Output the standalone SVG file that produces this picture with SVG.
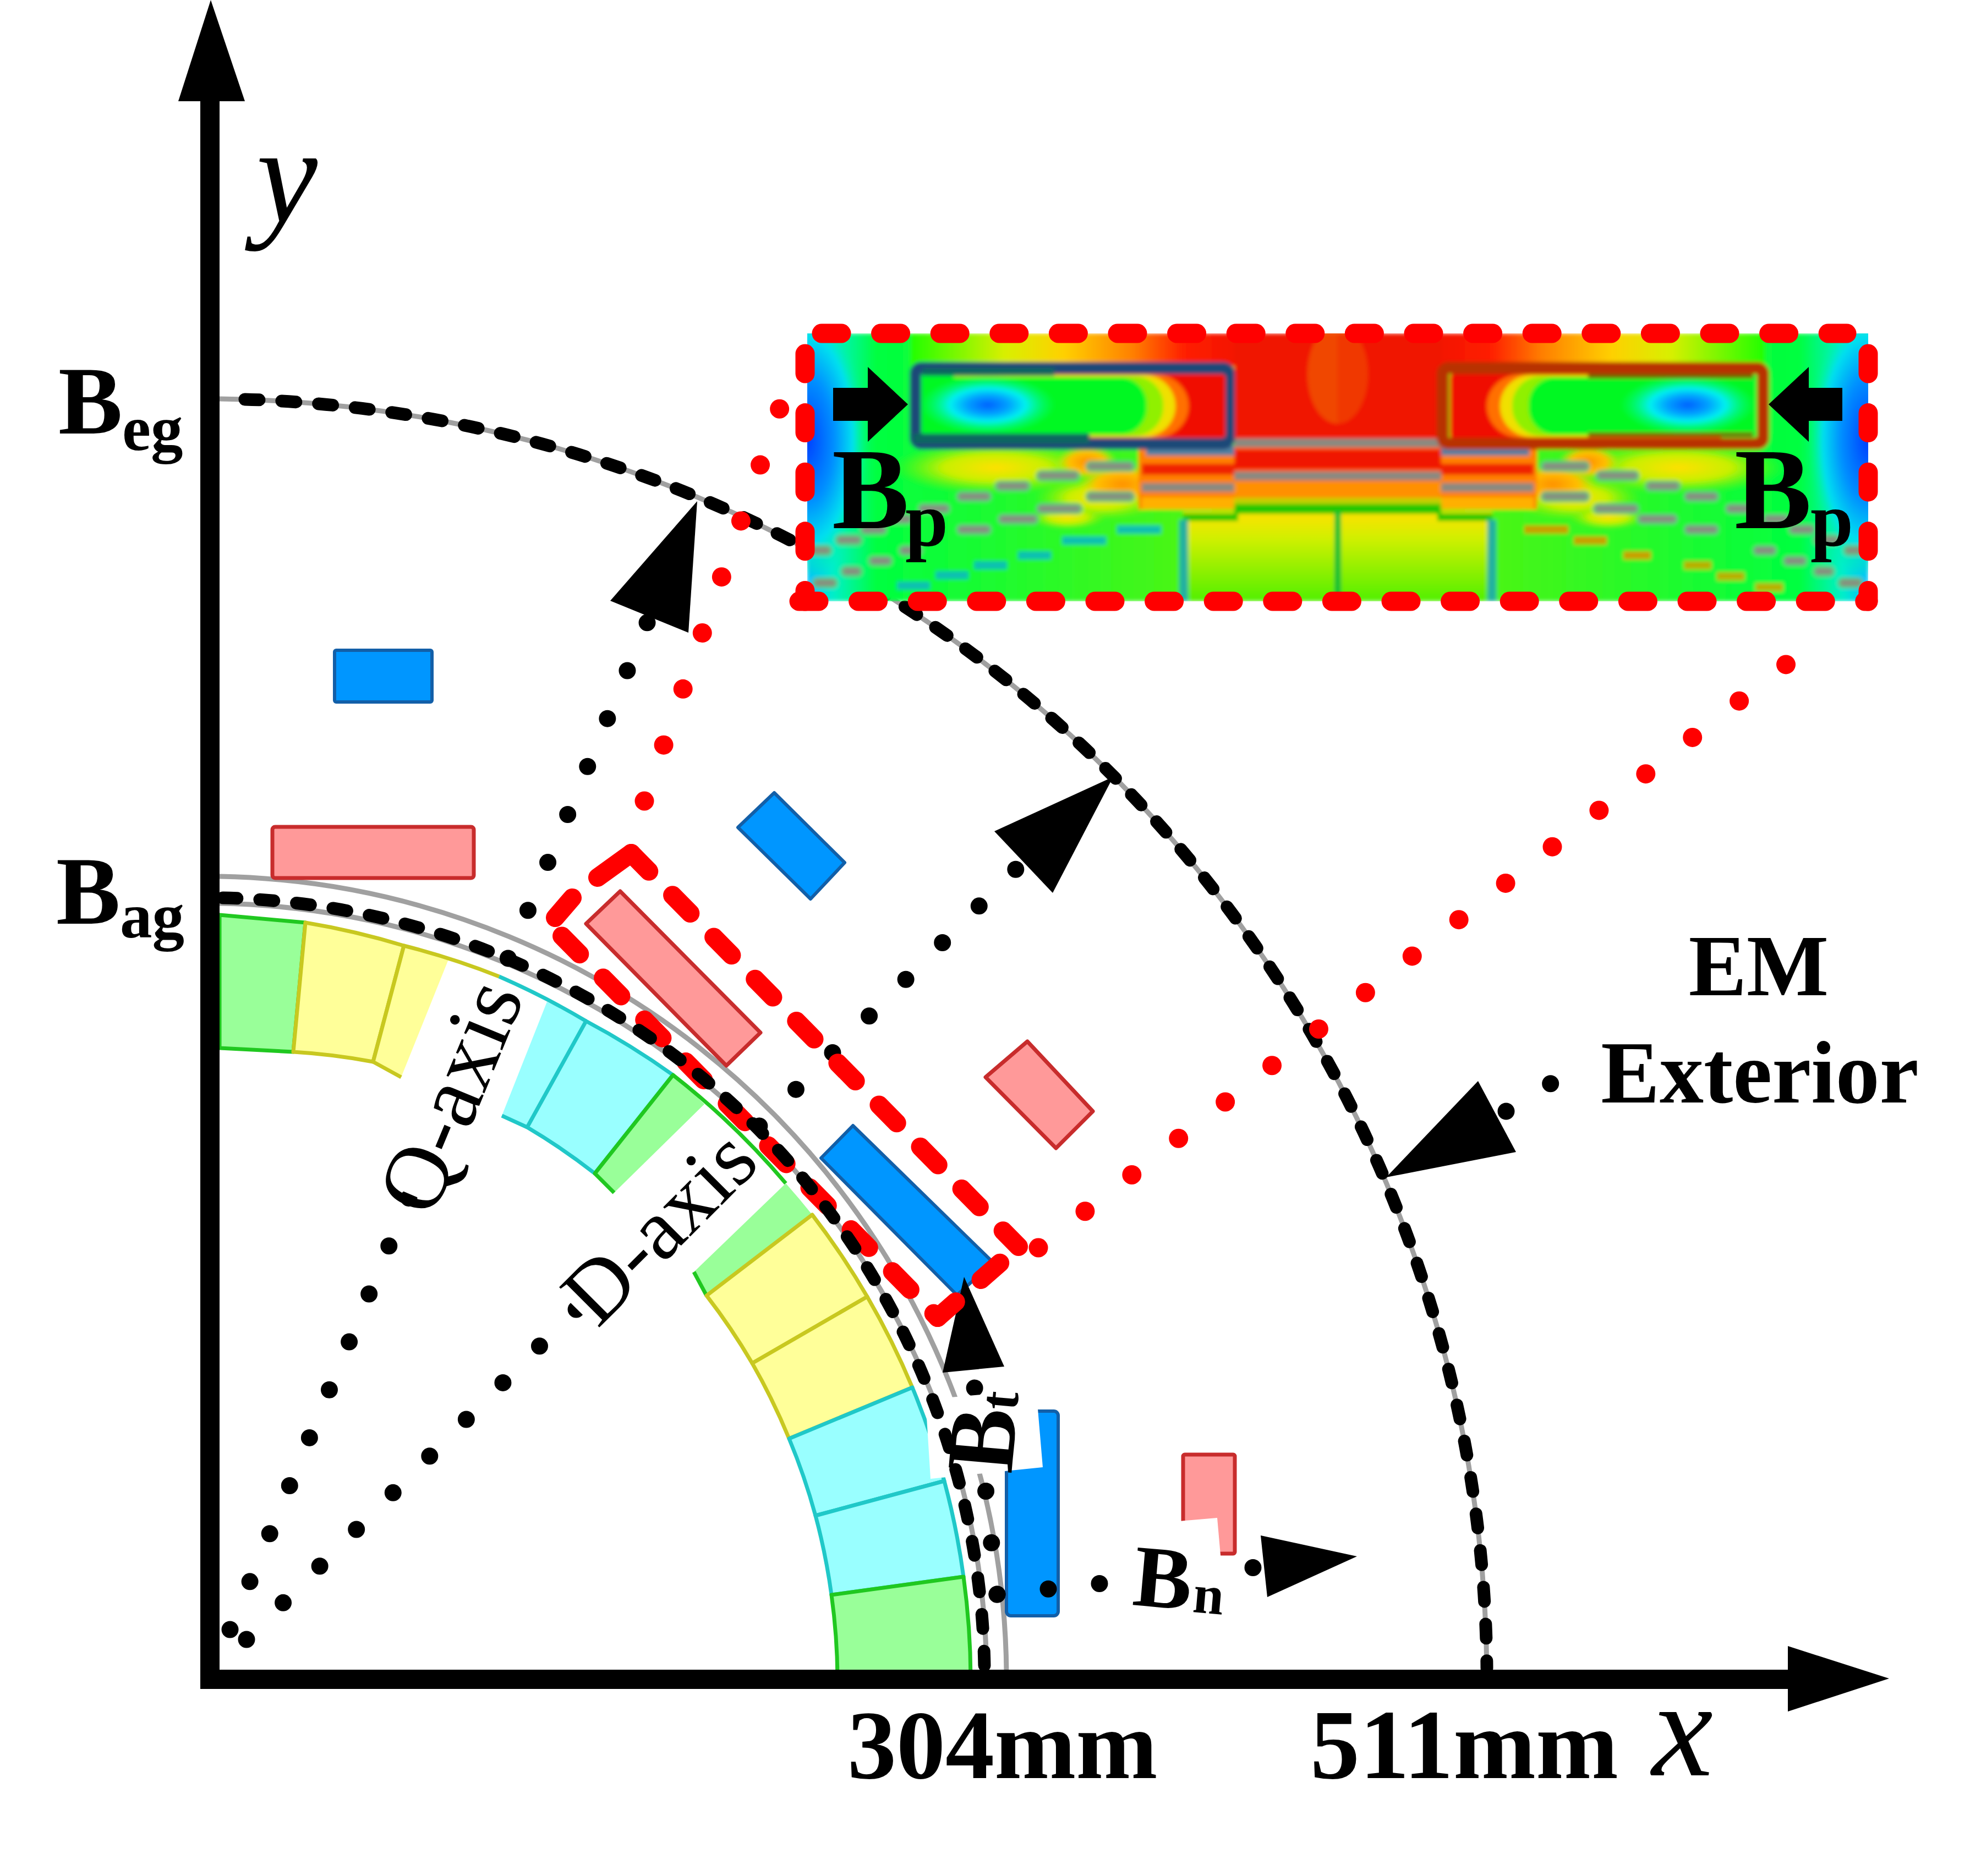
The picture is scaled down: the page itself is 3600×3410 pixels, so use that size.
<svg xmlns="http://www.w3.org/2000/svg" xmlns:xlink="http://www.w3.org/1999/xlink" width="3600" height="3410" viewBox="0 0 3600 3410">
<style>
text{font-family:"Liberation Serif","Times New Roman",serif;fill:#000}
.b{font-weight:bold}
.i{font-style:italic}
.gray{fill:none;stroke:#a0a0a0;stroke-width:9}
.dash{fill:none;stroke:#000;stroke-width:23;stroke-linecap:round;stroke-dasharray:26 41}
.dot{fill:none;stroke:#000;stroke-width:31;stroke-linecap:round}
.rdot{fill:none;stroke:#f00;stroke-width:35;stroke-linecap:round;stroke-dasharray:0 107.7}
.rdash{fill:none;stroke:#f00;stroke-width:34;stroke-linecap:round;stroke-dasharray:46 61}
.rseg{fill:none;stroke:#f00;stroke-width:34;stroke-linecap:round}
.hdash{fill:none;stroke:#f00;stroke-width:35;stroke-linecap:round;stroke-dasharray:36 71.6}
.rm{fill:#ff9999;stroke:#c82c2c;stroke-width:7;stroke-linejoin:round}
.bm{fill:#0096ff;stroke:#125fa8;stroke-width:6;stroke-linejoin:round}
.y{fill:#ffff99;stroke:#c8c820;stroke-width:7;stroke-linejoin:round}
.c{fill:#99ffff;stroke:#20c8c8;stroke-width:7;stroke-linejoin:round}
.g{fill:#99ff99;stroke:#20c820;stroke-width:7;stroke-linejoin:round}
.st{fill:#8a8a80;stroke:#60c080;stroke-width:5}
.w{fill:#fff}
</style>
<defs>
<filter id="soft" x="-2%" y="-5%" width="104%" height="110%"><feGaussianBlur stdDeviation="3.5"/></filter>
<clipPath id="hmClip"><rect x="1467" y="606" width="1928" height="487"/></clipPath>
<linearGradient id="hmBase" x1="0" x2="1" y1="0" y2="0"><stop offset="0" stop-color="#00c0ff"/><stop offset=".05" stop-color="#00f0c8"/><stop offset=".13" stop-color="#00ff40"/><stop offset="1" stop-color="#70f000"/></linearGradient>
<linearGradient id="hmTop" x1="0" x2="1" y1="0" y2="0"><stop offset="0" stop-color="#20ff00"/><stop offset=".22" stop-color="#d8f000"/><stop offset=".36" stop-color="#ffd000"/><stop offset=".52" stop-color="#ff8000"/><stop offset=".64" stop-color="#ff2000"/><stop offset=".8" stop-color="#f01000"/><stop offset="1" stop-color="#f06000"/></linearGradient>
<linearGradient id="hmCol" x1="0" x2="0" y1="0" y2="1"><stop offset="0" stop-color="#ffe000"/><stop offset=".3" stop-color="#d0f000"/><stop offset="1" stop-color="#50f000"/></linearGradient>
<radialGradient id="hmBlue"><stop offset="0" stop-color="#0040ff"/><stop offset=".45" stop-color="#0090ff"/><stop offset=".75" stop-color="#00e0f0"/><stop offset="1" stop-color="#00ff80" stop-opacity="0"/></radialGradient>
<radialGradient id="hmCore"><stop offset="0" stop-color="#0060ff"/><stop offset=".3" stop-color="#00a0ff"/><stop offset=".55" stop-color="#00f0f0"/><stop offset="1" stop-color="#00ff80" stop-opacity="0"/></radialGradient>
<radialGradient id="hmYel"><stop offset="0" stop-color="#ffe000"/><stop offset=".5" stop-color="#c8f000"/><stop offset="1" stop-color="#80f000" stop-opacity="0"/></radialGradient>
<radialGradient id="hmOr"><stop offset="0" stop-color="#ff9000"/><stop offset=".6" stop-color="#ffc000"/><stop offset="1" stop-color="#f0e000" stop-opacity="0"/></radialGradient>
<g id="hmHalf">
<rect x="1467" y="606" width="964" height="487" fill="url(#hmBase)"/>
<rect x="1654" y="606" width="777" height="60" fill="url(#hmTop)"/>
<ellipse cx="1467" cy="800" rx="110" ry="250" fill="url(#hmBlue)"/>
<rect x="2243" y="606" width="188" height="200" fill="#f01800"/>
<ellipse cx="2431" cy="680" rx="55" ry="90" fill="#f05000" opacity=".6"/>
<ellipse cx="1810" cy="850" rx="190" ry="48" fill="url(#hmYel)"/>
<ellipse cx="1975" cy="840" rx="55" ry="30" fill="url(#hmOr)"/>
<ellipse cx="2000" cy="905" rx="120" ry="40" fill="url(#hmYel)"/>
<ellipse cx="2040" cy="880" rx="80" ry="35" fill="url(#hmOr)"/>
<ellipse cx="1940" cy="940" rx="70" ry="22" fill="url(#hmYel)"/>
<rect x="2069" y="816" width="174" height="110" fill="#ff8000"/>
<rect x="2083" y="810" width="160" height="18" fill="#5080a0"/>
<rect x="2075" y="843" width="168" height="20" fill="#f02000"/>
<rect x="2075" y="904" width="168" height="22" fill="#ffb000"/>
<rect x="2243" y="812" width="188" height="105" fill="#ff6000"/>
<rect x="2243" y="817" width="188" height="36" fill="#f01800"/>
<rect x="2243" y="875" width="188" height="30" fill="#ff9000"/>
<rect x="2243" y="905" width="188" height="12" fill="#c0d000"/>
<rect x="2150" y="930" width="281" height="163" fill="url(#hmCol)"/>
<rect x="2243" y="916" width="188" height="18" fill="#20c800"/>
<rect x="2150" y="933" width="100" height="14" fill="#20c800"/>
<rect x="2425" y="930" width="12" height="163" fill="#10c030"/>
<rect x="2143" y="945" width="16" height="148" fill="#20b0a0"/>
<rect x="2243" y="797" width="188" height="16" fill="#8a8a80"/>
<rect x="2243" y="857" width="188" height="16" fill="#8a8a80"/>
<rect x="2075" y="878" width="168" height="16" fill="#8a8a80"/>
<rect class="st" x="1975" y="840" width="85" height="15" rx="7"/>
<rect class="st" x="1885" y="857" width="75" height="15" rx="7"/>
<rect class="st" x="1810" y="876" width="60" height="15" rx="7"/>
<rect class="st" x="1740" y="895" width="60" height="15" rx="7"/>
<rect class="st" x="1670" y="917" width="55" height="15" rx="7"/>
<rect class="st" x="1612" y="936" width="45" height="15" rx="7"/>
<rect class="st" x="1565" y="955" width="45" height="15" rx="7"/>
<rect class="st" x="1520" y="974" width="45" height="15" rx="7"/>
<rect class="st" x="1470" y="993" width="40" height="15" rx="7"/>
<rect class="st" x="1975" y="895" width="85" height="15" rx="7"/>
<rect class="st" x="1885" y="917" width="80" height="15" rx="7"/>
<rect class="st" x="1815" y="936" width="70" height="15" rx="7"/>
<rect class="st" x="1740" y="955" width="60" height="15" rx="7"/>
<rect class="st" x="1635" y="993" width="40" height="15" rx="7"/>
<rect class="st" x="1580" y="1012" width="40" height="15" rx="7"/>
<rect class="st" x="1530" y="1031" width="35" height="15" rx="7"/>
<rect class="st" x="1478" y="1052" width="42" height="15" rx="7"/>
</g>
<g id="hmSlotInner">
<rect x="1674" y="680" width="553" height="116" rx="6" fill="#f00c00"/>
<rect x="1674" y="680" width="486" height="116" rx="62" fill="#ff7000"/>
<rect x="1674" y="682" width="462" height="112" rx="56" fill="#f0e000"/>
<rect x="1674" y="684" width="440" height="108" rx="52" fill="#90f000"/>
<rect x="1674" y="686" width="410" height="104" rx="48" fill="#00f820"/>
<rect x="1674" y="680" width="60" height="116" fill="#00f820"/>
<ellipse cx="1795" cy="736" rx="125" ry="54" fill="url(#hmCore)"/>
</g>
</defs>
<rect width="3600" height="3410" fill="#fff"/>

<g id="air-gap-lines">
<path class="gray" d="M399 1642A1421 1413 0 0 1 1793 3040"/>
<path class="gray" d="M399 1593A1458 1462 0 0 1 1829 3040"/>
<path class="gray" d="M399 725A2330 2330 0 0 1 2702 3040"/>
<path class="dash" style="stroke-dashoffset:-40" d="M405 725A2330 2330 0 0 1 2702 3032"/>
</g>

<g id="magnets">
<rect class="bm" x="608" y="1182" width="177" height="94" rx="3"/>
<rect class="rm" x="495" y="1503" width="366" height="93" rx="5"/>
<polygon class="bm" points="1407,1441 1535,1568 1473,1634 1341,1504"/>
<polygon class="rm" points="1127,1620 1382,1877 1320,1937 1065,1679"/>
<polygon class="rm" points="1867,1893 1986,2020 1919,2087 1791,1958"/>
<polygon class="bm" points="1550,2046 1805,2295 1739,2354 1492,2105"/>
<rect class="bm" x="1829" y="2565" width="94" height="372" rx="8"/>
<rect class="rm" x="2150" y="2644" width="94" height="180" rx="3"/>
</g>

<g id="dotted-lines">
<path class="dot" style="stroke-dasharray:0 94.33" d="M418 2962L1176.4 1131"/>
<path class="dot" style="stroke-dasharray:0 94.2" d="M448 2980L1846.4 1579.6"/>
<path class="dot" style="stroke-dasharray:0 94.3" d="M1812 2898L1771 2522"/>
<path class="dot" style="stroke-dasharray:0 93.5" d="M1812 2898L2281 2849"/>
<path class="dot" style="stroke-dasharray:0 95" d="M2737 2020L2819 1969"/>
</g>

<g id="label-backgrounds">
<polygon class="w" points="815,1744 994,1821 835,2209 657,2133"/>
<polygon class="w" points="1280,2007 1428,2151 1121,2451 975,2307"/>
<polygon class="w" points="2025,2775 2212,2759 2232,2985 2045,3000"/>
</g>

<g id="stator">
<path class="g" d="M399 1663L555 1677L533 1912L399 1905Z"/>
<path class="y" d="M555 1677A1392 1392 0 0 1 734 1719L678 1930A1150 1150 0 0 0 533 1912Z"/>
<path fill="#ffff99" d="M734 1719A1392 1392 0 0 1 815 1744L729 1958L678 1930Z"/>
<path class="y" style="fill:none" d="M678 1930L734 1719A1392 1392 0 0 1 907 1775M678 1930L729 1958"/>
<path fill="#99ffff" d="M994 1821A1392 1392 0 0 1 1065 1856L958 2049L912 2028Z"/>
<path class="c" d="M1065 1856A1392 1392 0 0 1 1223 1954L1081 2133A1150 1150 0 0 0 958 2049Z"/>
<path class="c" style="fill:none" d="M907 1775A1392 1392 0 0 1 1065 1856M912 2028L958 2049"/>
<path fill="#99ff99" d="M1223 1954A1392 1392 0 0 1 1280 2007L1116 2168L1081 2133Z"/>
<path class="g" style="fill:none" d="M1116 2168L1081 2133L1223 1954A1392 1392 0 0 1 1428 2151"/>
<path fill="#99ff99" d="M1428 2151A1392 1392 0 0 1 1476 2208L1284 2355L1261 2312Z"/>
<path class="g" style="fill:none" d="M1261 2312L1284 2355"/>
<path class="y" d="M1476 2208A1392 1392 0 0 1 1576 2357L1367 2478A1150 1150 0 0 0 1284 2355Z"/>
<path class="y" d="M1576 2357A1392 1392 0 0 1 1658 2522L1434 2615A1150 1150 0 0 0 1367 2478Z"/>
<path class="c" d="M1658 2522A1392 1392 0 0 1 1716 2692L1482 2755A1150 1150 0 0 0 1434 2615Z"/>
<path class="c" d="M1716 2692A1392 1392 0 0 1 1751 2866L1511 2899A1150 1150 0 0 0 1482 2755Z"/>
<path class="g" d="M1751 2866A1392 1392 0 0 1 1764 3055H1522A1150 1150 0 0 0 1511 2899Z"/>
</g>

<polygon class="w" points="1682,2544 1883,2526 1895,2667 1691,2688"/>

<g id="axes">
<rect x="364" y="150" width="35" height="2920"/>
<polygon points="383,0 445,184 324,184"/>
<rect x="364" y="3035" width="2920" height="35"/>
<polygon points="3249,2992 3433,3051 3249,3111"/>
</g>

<g id="field-arrows">
<polygon points="1267,911 1251,1150 1109,1092"/>
<polygon points="2023,1412 1913,1623 1807,1511"/>
<polygon points="2519,2140 2755,2094 2686,1965"/>
<polygon points="1752,2321 1825,2484 1713,2495"/>
<polygon points="2291,2791 2466,2829 2303,2903"/>
</g>

<g id="zoom-lines">
<path class="rdot" d="M1171 1456L1417.4 741"/>
<path class="rdot" d="M1887 2268L3330 1142"/>
<path class="rdash" d="M1147 1551L1851 2266"/>
<path class="rdash" style="stroke-dashoffset:-30" d="M1000 1680L1704 2395"/>
<path class="rseg" d="M1147 1551L1086 1595M1040 1632L1009 1668"/>
<path class="rdash" style="stroke-dashoffset:-45" d="M1851 2266L1704 2395"/>
</g>

<path id="air-gap-dash" class="dash" d="M405 1632A1417 1423 0 0 1 1789 3030"/>

<g id="heatmap">
<g clip-path="url(#hmClip)">
<g filter="url(#soft)">
<use xlink:href="#hmHalf" href="#hmHalf"/>
<use xlink:href="#hmHalf" href="#hmHalf" transform="translate(4862 0) scale(-1 1)"/>
<rect x="2030" y="955" width="80" height="15" fill="#10c0b0"/>
<rect x="1930" y="975" width="80" height="15" fill="#10c0b0"/>
<rect x="1850" y="1002" width="60" height="15" fill="#10c0b0"/>
<rect x="1770" y="1020" width="60" height="15" fill="#10c0b0"/>
<rect x="1700" y="1038" width="60" height="15" fill="#10c0b0"/>
<rect x="1630" y="1057" width="60" height="15" fill="#10c0b0"/>
<rect x="2770" y="955" width="80" height="15" fill="#c8a000"/>
<rect x="2860" y="975" width="60" height="15" fill="#c8a000"/>
<rect x="2950" y="1002" width="50" height="15" fill="#c8a000"/>
<rect x="3060" y="1020" width="50" height="15" fill="#b8b000"/>
<rect x="3120" y="1040" width="50" height="15" fill="#b8b000"/>
<rect x="3190" y="1060" width="50" height="15" fill="#b8b000"/>
<rect x="1664" y="669" width="569" height="137" rx="10" fill="none" stroke="#1a4a78" stroke-width="22"/>
<use xlink:href="#hmSlotInner" href="#hmSlotInner"/>
<rect x="1660" y="788" width="320" height="18" fill="#106860"/>
<rect x="1676" y="669" width="240" height="14" fill="#106860"/>
<g transform="translate(4862 0) scale(-1 1)">
<rect x="1658" y="669" width="582" height="137" rx="10" fill="none" stroke="#b83000" stroke-width="22"/>
<use xlink:href="#hmSlotInner" href="#hmSlotInner"/>
<rect x="1676" y="680" width="300" height="8" fill="#706000"/>
<rect x="1676" y="786" width="300" height="8" fill="#706000"/>
</g>
</g>
</g>
</g>

<g id="heatmap-frame">
<path class="hdash" d="M1493 606H3356"/>
<path class="hdash" d="M1452 1093H3395"/>
<path class="hdash" d="M1463 643V1093"/>
<path class="hdash" d="M3395 643V1093"/>
</g>

<g id="bp-arrows">
<polygon points="1514,705 1577,705 1577,667 1650,735 1577,803 1577,765 1514,765"/>
<polygon points="3348,705 3287,705 3287,667 3214,735 3287,803 3287,765 3348,765"/>
</g>

<g id="labels">
<text class="b" x="106" y="788" font-size="175">B</text>
<text class="b" x="222" y="818" font-size="117">eg</text>
<text class="b" x="102" y="1679" font-size="175">B</text>
<text class="b" x="218" y="1704" font-size="117">ag</text>
<text class="i" x="466" y="403" font-size="250">y</text>
<text class="i" x="3002" y="3227" font-size="250">x</text>
<text class="b" x="1540" y="3232" font-size="178">304mm</text>
<text class="b" x="2381" y="3232" font-size="180">511mm</text>
<text class="b" x="3196" y="1809" text-anchor="middle" font-size="158">EM</text>
<text class="b" x="3198" y="2004" text-anchor="middle" font-size="160">Exterior</text>
<text class="b" x="1512" y="960" font-size="210">B</text>
<text class="b" x="1645" y="992" font-size="140">p</text>
<text class="b" x="3152" y="960" font-size="210">B</text>
<text class="b" x="3290" y="992" font-size="140">p</text>
<text x="785" y="2217" font-size="165" transform="rotate(-67.5 785 2217)">Q-axis</text>
<text x="1086" y="2416" font-size="158" transform="rotate(-45 1086 2416)">D-axis</text>
<text class="b" x="1838" y="2680" font-size="175" transform="rotate(-85 1838 2680)">B</text>
<text class="b" x="1848" y="2565" font-size="100" transform="rotate(-85 1848 2565)">t</text>
<text class="b" x="2056" y="2917" font-size="160" transform="rotate(5 2056 2917)">B</text>
<text class="b" x="2166" y="2930" font-size="100" transform="rotate(5 2166 2930)">n</text>
</g>
</svg>
